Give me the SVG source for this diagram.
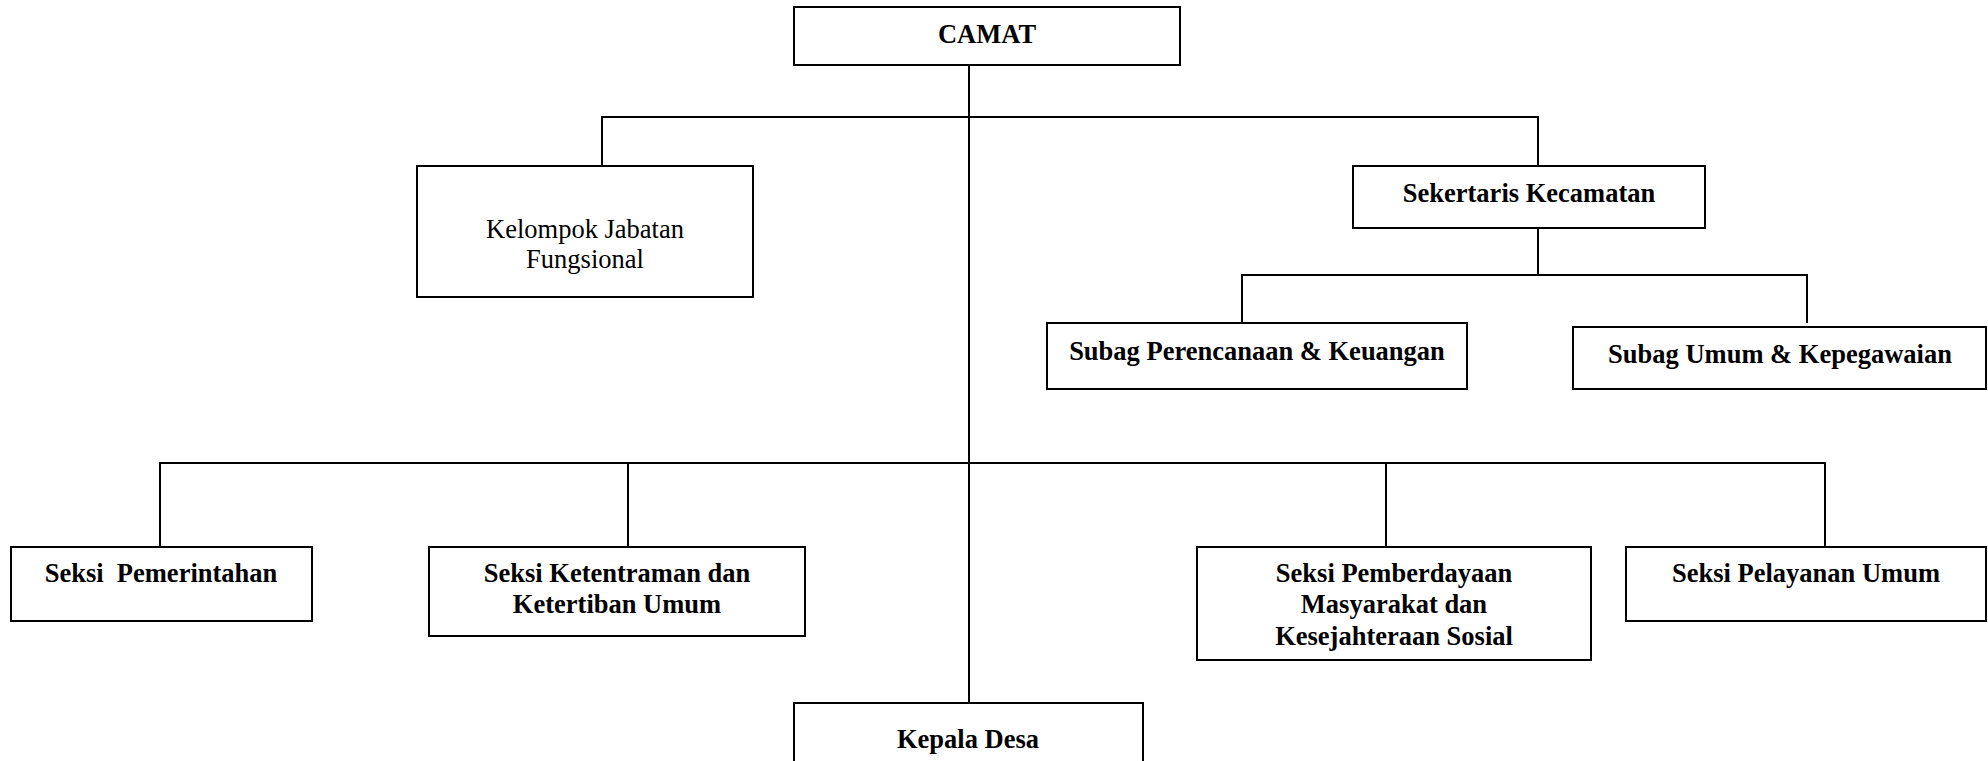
<svg xmlns="http://www.w3.org/2000/svg" width="1988" height="761" viewBox="0 0 1988 761">
<style>
.box{fill:#fff;stroke:#000;stroke-width:2}
.t{font-family:"Liberation Serif","Times New Roman",serif;font-size:26.5px;font-weight:bold;text-anchor:middle;fill:#000}
.r{font-weight:normal}
.c{fill:none;stroke:#000;stroke-width:2}
</style>
<rect width="1988" height="761" fill="#fff"/>
<g id="connectors">
<path class="c" d="M969 65V703"/>
<path class="c" d="M602 166V117H1538V166"/>
<path class="c" d="M1538 228V275"/>
<path class="c" d="M1242 323V275H1807V323"/>
<path class="c" d="M160 547V463H1825V547"/>
<path class="c" d="M628 463V547"/>
<path class="c" d="M1386 463V547"/>
</g>
<g id="camat"><rect class="box" x="794" y="7" width="386" height="58"/><text class="t" x="987" y="43">CAMAT</text></g>
<g id="kelompok"><rect class="box" x="417" y="166" width="336" height="131"/><text class="t r" x="585" y="238">Kelompok Jabatan</text><text class="t r" x="585" y="268">Fungsional</text></g>
<g id="sekertaris"><rect class="box" x="1353" y="166" width="352" height="62"/><text class="t" x="1529" y="202">Sekertaris Kecamatan</text></g>
<g id="subag-perencanaan"><rect class="box" x="1047" y="323" width="420" height="66"/><text class="t" x="1257" y="360">Subag Perencanaan &amp; Keuangan</text></g>
<g id="subag-umum"><rect class="box" x="1573" y="327" width="413" height="62"/><text class="t" x="1780" y="363">Subag Umum &amp; Kepegawaian</text></g>
<g id="seksi-pemerintahan"><rect class="box" x="11" y="547" width="301" height="74"/><text class="t" x="161" y="582" xml:space="preserve">Seksi  Pemerintahan</text></g>
<g id="seksi-ketentraman"><rect class="box" x="429" y="547" width="376" height="89"/><text class="t" x="617" y="582">Seksi Ketentraman dan</text><text class="t" x="617" y="613">Ketertiban Umum</text></g>
<g id="seksi-pemberdayaan"><rect class="box" x="1197" y="547" width="394" height="113"/><text class="t" x="1394" y="582">Seksi Pemberdayaan</text><text class="t" x="1394" y="613">Masyarakat dan</text><text class="t" x="1394" y="645">Kesejahteraan Sosial</text></g>
<g id="seksi-pelayanan"><rect class="box" x="1626" y="547" width="360" height="74"/><text class="t" x="1806" y="582">Seksi Pelayanan Umum</text></g>
<g id="kepala-desa"><rect class="box" x="794" y="703" width="349" height="70"/><text class="t" x="968" y="748">Kepala Desa</text></g>
</svg>
